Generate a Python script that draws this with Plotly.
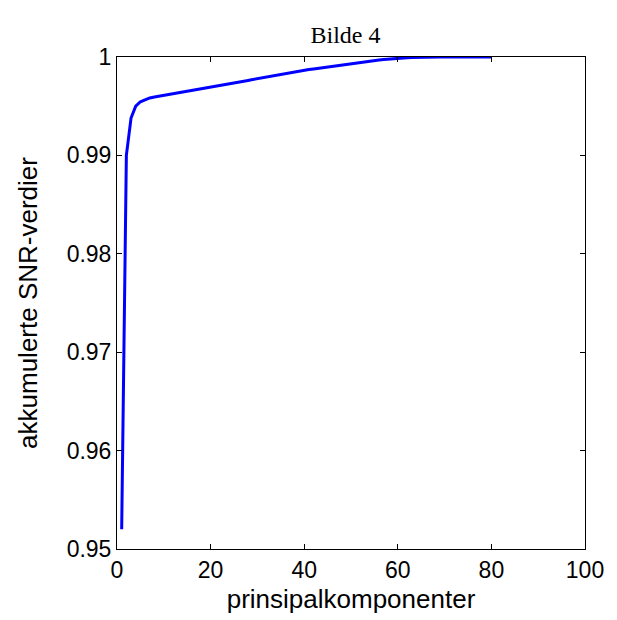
import plotly.graph_objects as go

# principal component index
components = list(range(1, 81))
# accumulated SNR values
accum_snr = [
    0.9520, 0.9900, 0.9938, 0.9950, 0.99545, 0.99568, 0.99584, 0.99594, 0.99602, 0.99610,
    0.99618, 0.99626, 0.99634, 0.99642, 0.99650, 0.99658, 0.99666, 0.99674, 0.99682, 0.99690,
    0.99699, 0.99708, 0.99717, 0.99726, 0.99735, 0.99744, 0.99753, 0.99762, 0.99771, 0.99780,
    0.99789, 0.99797, 0.99806, 0.99814, 0.99823, 0.99831, 0.99840, 0.99848, 0.99857, 0.99865,
    0.99872, 0.99879, 0.99886, 0.99893, 0.99900, 0.99907, 0.99914, 0.99921, 0.99928, 0.99935,
    0.99941, 0.99947, 0.99953, 0.99959, 0.99965, 0.99970, 0.99975, 0.99980, 0.99984, 0.99988,
    0.99991, 0.99993, 0.99995, 0.99997, 0.99998, 0.99999, 0.99999, 1.0, 1.0, 1.0,
    1.0, 1.0, 1.0, 1.0, 1.0, 1.0, 1.0, 1.0, 1.0, 1.0,
]
x_tickvals = [0, 20, 40, 60, 80, 100]
x_ticktext = ["0", "20", "40", "60", "80", "100"]
y_tickvals = [0.95, 0.96, 0.97, 0.98, 0.99, 1.0]
y_ticktext = ["0.95", "0.96", "0.97", "0.98", "0.99", "1"]

fig = go.Figure()
fig.add_trace(go.Scatter(
    x=components, y=accum_snr, mode="lines",
    line=dict(color="#0000ff", width=3), showlegend=False,
))

tick_font = dict(family="Liberation Sans, Arial, sans-serif", size=23, color="black")
title_font = dict(family="Liberation Sans, Arial, sans-serif", size=26, color="black")

fig.update_layout(
    width=617, height=620,
    margin=dict(l=117, r=32, t=57, b=71),
    paper_bgcolor="white", plot_bgcolor="white",
    title=dict(text="Bilde 4", x=0.56, xanchor="center", y=1 - 35 / 620, yanchor="middle",
               font=dict(family="Liberation Serif, Times New Roman, serif", size=24, color="black")),
    xaxis=dict(range=[0, 100], tickvals=x_tickvals, ticktext=x_ticktext,
               ticks="inside", ticklen=5, tickcolor="black", mirror="ticks",
               showline=True, linecolor="black", linewidth=1, showgrid=False, zeroline=False,
               tickfont=tick_font,
               title=dict(text="prinsipalkomponenter", font=title_font, standoff=8)),
    yaxis=dict(range=[0.95, 1.0], tickvals=y_tickvals, ticktext=y_ticktext,
               ticks="inside", ticklen=5, tickcolor="black", mirror="ticks",
               showline=True, linecolor="black", linewidth=1, showgrid=False, zeroline=False,
               tickfont=tick_font,
               title=dict(text="akkumulerte SNR-verdier", font=title_font, standoff=21)),
)

fig.write_html("out.html")
